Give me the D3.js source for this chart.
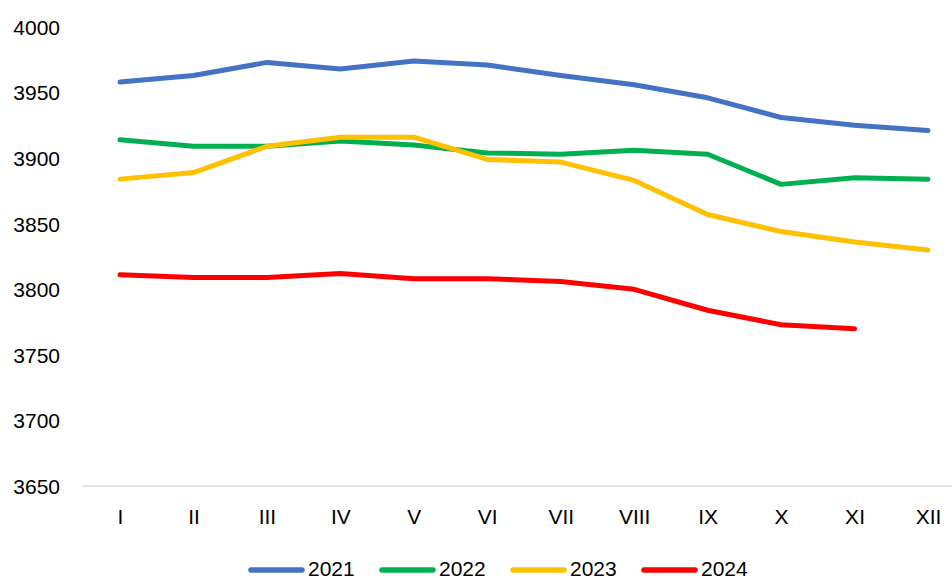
<!DOCTYPE html>
<html>
<head>
<meta charset="utf-8">
<script src="https://cdn.jsdelivr.net/npm/d3@7"></script>
<style>
  html, body { margin: 0; padding: 0; background: #fff; }
  svg { display: block; }
  text { font-family: "Liberation Sans", Arial, sans-serif; fill: #000; }
</style>
</head>
<body>
<svg id="chart" width="952" height="578"></svg>
<script>
const months = ["I","II","III","IV","V","VI","VII","VIII","IX","X","XI","XII"];
const seriesNames = ["2021","2022","2023","2024"];
const seriesColors = ["#4472C4","#00B050","#FFC000","#FF0000"];
const values2021 = [3958, 3963, 3973, 3968, 3974, 3971, 3963, 3956, 3946, 3931, 3925, 3921];
const values2022 = [3914, 3909, 3909, 3913, 3910, 3904, 3903, 3906, 3903, 3880, 3885, 3884];
const values2023 = [3884, 3889, 3909, 3916, 3916, 3899, 3897, 3883, 3857, 3844, 3836, 3830];
const values2024 = [3811, 3809, 3809, 3812, 3808, 3808, 3806, 3800, 3784, 3773, 3770];
const yTicks = [3650, 3700, 3750, 3800, 3850, 3900, 3950, 4000];

const allSeries = [values2021, values2022, values2023, values2024];

const svg = d3.select("#chart");
const x = d3.scalePoint().domain(months).range([120, 928]);
const y = d3.scaleLinear().domain([3650, 4000]).range([486, 27]);

// baseline / x axis line
svg.append("line")
  .attr("x1", 83).attr("x2", 952)
  .attr("y1", y(3650)).attr("y2", y(3650))
  .attr("stroke", "#d9d9d9").attr("stroke-width", 1.5);

// y axis labels
const yAxis = d3.axisLeft(y).tickValues(yTicks).tickSize(0).tickPadding(0).tickFormat(d3.format("d"));
const yg = svg.append("g").attr("transform", "translate(60,0)").call(yAxis);
yg.select(".domain").remove();
yg.selectAll("text").attr("font-size", 21).attr("font-family", "Liberation Sans, Arial, sans-serif").attr("fill", "#000").attr("dy", "0.35em");

// x axis labels
const xAxis = d3.axisBottom(x).tickSize(0).tickPadding(0);
const xg = svg.append("g").attr("transform", "translate(0,517)").call(xAxis);
xg.select(".domain").remove();
xg.selectAll("text").attr("font-size", 21).attr("font-family", "Liberation Sans, Arial, sans-serif").attr("fill", "#000").attr("dy", "0.35em");

// lines
const line = d3.line().x((d, i) => x(months[i])).y(d => y(d));
allSeries.forEach((vals, k) => {
  svg.append("path")
    .datum(vals)
    .attr("d", line)
    .attr("fill", "none")
    .attr("stroke", seriesColors[k])
    .attr("stroke-width", 5)
    .attr("stroke-linecap", "round")
    .attr("stroke-linejoin", "round");
});

// legend
const legendX = [251, 382, 513, 644];
const lg = svg.append("g");
seriesNames.forEach((name, k) => {
  lg.append("line")
    .attr("x1", legendX[k]).attr("x2", legendX[k] + 51)
    .attr("y1", 570).attr("y2", 570)
    .attr("stroke", seriesColors[k]).attr("stroke-width", 5.5)
    .attr("stroke-linecap", "round");
  lg.append("text")
    .attr("x", legendX[k] + 57).attr("y", 569)
    .attr("dy", "0.35em")
    .attr("font-size", 21)
    .text(name);
});
</script>
</body>
</html>
